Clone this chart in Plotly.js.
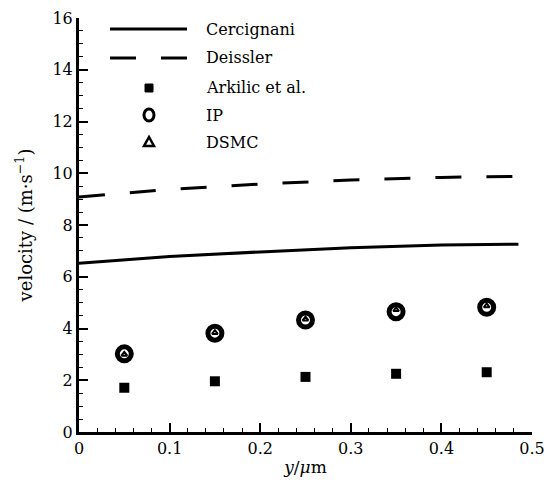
<!DOCTYPE html>
<html>
<head>
<meta charset="utf-8">
<script src="https://cdn.plot.ly/plotly-3.0.1.min.js"></script>
<style>html,body{margin:0;padding:0;background:#fff;}#chart{width:547px;height:492px;}</style>
</head>
<body>
<div id="chart"></div>
<script>
// Data
const lineX = [0, 0.1, 0.2, 0.3, 0.4, 0.485];
const cercignani = [6.52, 6.78, 6.96, 7.12, 7.23, 7.26];
const deissler = [9.08, 9.38, 9.58, 9.74, 9.84, 9.88];
const pointX = [0.05, 0.15, 0.25, 0.35, 0.45];
const arkilic = [1.71, 1.96, 2.13, 2.25, 2.31];
const ip = [3.02, 3.82, 4.33, 4.65, 4.82];
const dsmc = [3.0, 3.84, 4.36, 4.72, 4.87];
const legendNames = ["Cercignani", "Deissler", "Arkilic et al.", "IP", "DSMC"];

const FONT = "DejaVu Serif";

const traces = [
  {x: lineX, y: cercignani, mode: "lines", name: legendNames[0],
   line: {color: "#000", width: 3}},
  {x: lineX, y: deissler, mode: "lines", name: legendNames[1],
   line: {color: "#000", width: 3, dash: "26px,25px"}},
  {x: pointX, y: arkilic, mode: "markers", name: legendNames[2],
   marker: {symbol: "square", size: 10, color: "#000"}},
  {x: pointX, y: ip, mode: "markers", name: legendNames[3],
   marker: {symbol: "circle-open", size: 14, color: "#000", line: {width: 5, color: "#000"}}},
  {x: pointX, y: dsmc, mode: "markers", name: legendNames[4],
   marker: {symbol: "triangle-up-open", size: 5, color: "#000", line: {width: 2, color: "#000"}}}
];

// Manual legend (paper coordinates derived from pixel layout)
const L = 79, T = 18, W = 453, H = 414;
const px = v => (v - L) / W;
const py = v => (T + H - v) / H;
const rowsY = [29, 58, 88, 115, 142];
const shapes = [
  {type: "line", xref: "paper", yref: "paper", x0: px(110), x1: px(187), y0: py(rowsY[0]), y1: py(rowsY[0]),
   line: {color: "#000", width: 3}},
  {type: "line", xref: "paper", yref: "paper", x0: px(110), x1: px(187), y0: py(rowsY[1]), y1: py(rowsY[1]),
   line: {color: "#000", width: 3, dash: "26px,25px"}},
  {type: "rect", xref: "paper", yref: "paper", xsizemode: "pixel", ysizemode: "pixel",
   xanchor: px(149), yanchor: py(rowsY[2]), x0: -4, x1: 4, y0: -4, y1: 4,
   fillcolor: "#000", line: {color: "#000", width: 1}},
  {type: "circle", xref: "paper", yref: "paper", xsizemode: "pixel", ysizemode: "pixel",
   xanchor: px(149), yanchor: py(rowsY[3]), x0: -5, x1: 5, y0: -6, y1: 6,
   line: {color: "#000", width: 3}},
  {type: "path", xref: "paper", yref: "paper", xsizemode: "pixel", ysizemode: "pixel",
   xanchor: px(149), yanchor: py(rowsY[4]), path: "M -5 -4 L 5 -4 L 0 5 Z",
   line: {color: "#000", width: 2.5}}
];
const annotations = legendNames.map((n, i) => ({
  xref: "paper", yref: "paper", x: px(204), y: py(rowsY[i]), text: n,
  showarrow: false, xanchor: "left", yanchor: "middle",
  font: {family: FONT, size: 16, color: "#000"}
}));

const layout = {
  width: 547, height: 492,
  margin: {l: L, r: 547 - L - W, t: T, b: 492 - T - H},
  paper_bgcolor: "#fff", plot_bgcolor: "#fff",
  showlegend: false,
  font: {family: FONT, size: 16, color: "#000"},
  xaxis: {
    range: [0, 0.5], dtick: 0.1, tick0: 0,
    showline: true, linewidth: 3, linecolor: "#000",
    ticks: "inside", ticklen: 9, tickwidth: 2, tickcolor: "#000",
    minor: {dtick: 0.02, ticks: "inside", ticklen: 4, tickwidth: 1, tickcolor: "#000"},
    showgrid: false, zeroline: false, mirror: false,
    tickfont: {family: FONT, size: 16},
    title: {text: "<i>y</i>/<i>μ</i>m", font: {family: FONT, size: 17}, standoff: 4}
  },
  yaxis: {
    range: [0, 16], dtick: 2, tick0: 0,
    showline: true, linewidth: 3, linecolor: "#000",
    ticks: "inside", ticklen: 9, tickwidth: 2, tickcolor: "#000",
    minor: {dtick: 0.5, ticks: "inside", ticklen: 4, tickwidth: 1, tickcolor: "#000"},
    showgrid: false, zeroline: false, mirror: false,
    tickfont: {family: FONT, size: 16},
    title: {text: "velocity / (m·s<sup>−1</sup>)", font: {family: FONT, size: 18}, standoff: 16}
  },
  shapes: shapes,
  annotations: annotations
};

Plotly.newPlot("chart", traces, layout, {staticPlot: true, displayModeBar: false});
</script>
</body>
</html>
